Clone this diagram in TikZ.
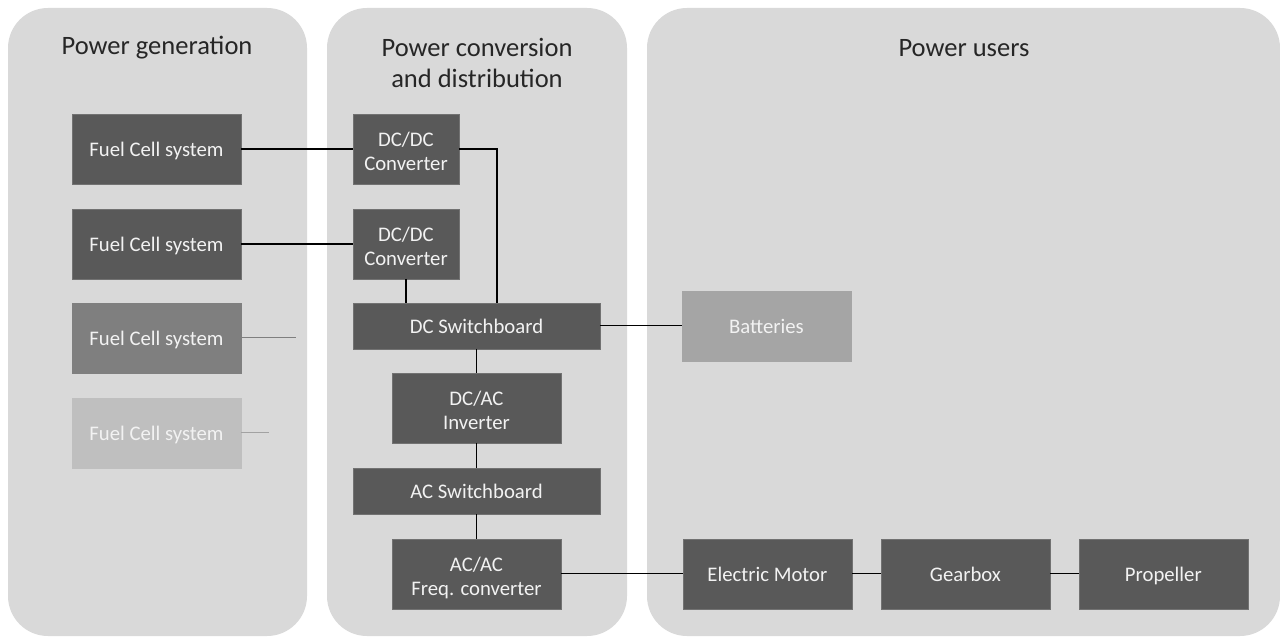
\documentclass[tikz,border=0pt]{standalone}
\usepackage{fontspec}
\setmainfont{Carlito}
\usetikzlibrary{positioning,calc}
\definecolor{panelgray}{HTML}{D9D9D9}
\definecolor{boxgray}{HTML}{595959}
\definecolor{dimgray}{HTML}{7F7F7F}
\definecolor{faintgray}{HTML}{BFBFBF}
\definecolor{batgray}{HTML}{A5A5A5}
\definecolor{boxtext}{HTML}{F2F2F2}

\begin{document}
\begin{tikzpicture}[
  x=0.02cm, y=-0.02cm,
  panel/.style={fill=panelgray, rounded corners=0.8cm},
  title/.style={font=\fontsize{15.1}{17.6}\selectfont, align=center, text=black!85},
  box/.style={fill=boxgray, draw=boxgray!85!white, line width=0.4pt, outer sep=0pt, text=boxtext, minimum width=3.38cm, minimum height=1.4cm, inner sep=0pt, align=center, font=\fontsize{11.8}{13.6}\selectfont},
  oneline/.style={box, text height=0.93em, text depth=0.1em},
  twoline/.style={box, text height=2.51em, text depth=0.1em},
  conv/.style={twoline, minimum width=2.12cm},
  board/.style={oneline, minimum width=4.94cm, minimum height=0.92cm},
  link/.style={draw=black, line width=0.6pt},
]
\useasboundingbox (0,0) rectangle (1280,642);

% the three areas
\fill[panel] (8,8) rectangle (307,636);
\fill[panel] (327,8) rectangle (627,636);
\fill[panel] (647,8) rectangle (1280,636);

\node[title] (gentitle) at (157,48) {Power generation};
\node[title] (convtitle) at (477,63) {Power conversion\\and distribution};
\node[title] (usertitle) at (964,48) {Power users};

% power generation
\node[oneline] (fc1) at (156.5,149) {Fuel Cell system};
\node[oneline, below=0.5cm of fc1] (fc2) {Fuel Cell system};
\node[oneline, fill=dimgray, draw=dimgray, below=0.48cm of fc2] (fc3) {Fuel Cell system};
\node[oneline, fill=faintgray, draw=faintgray, below=0.5cm of fc3] (fc4) {Fuel Cell system};
\coordinate (stub3) at ($(fc3.east)+(55,0)$);
\coordinate (stub4) at ($(fc4.east)+(28,0)$);

% conversion and distribution
\node[conv] (dcdc1) at (406,149) {DC/DC\\Converter};
\node[conv, below=0.5cm of dcdc1] (dcdc2) {DC/DC\\Converter};
\node[board, below right=0.48cm and 0cm of dcdc2.south west] (dcsw) {DC Switchboard};
\node[twoline, below=0.48cm of dcsw] (inv) {DC/AC\\Inverter};
\node[board, below=0.5cm of inv] (acsw) {AC Switchboard};
\node[twoline, below=0.5cm of acsw] (acac) {AC/AC\\Freq. converter};
\coordinate (bus) at (497,149);

% users
\node[oneline, fill=batgray, draw=batgray, right=1.64cm of dcsw] (bat) {Batteries};
\node[oneline, right=2.44cm of acac] (motor) {Electric Motor};
\node[oneline, right=0.58cm of motor] (gear) {Gearbox};
\node[oneline, right=0.58cm of gear] (prop) {Propeller};

\draw[link] (fc1) -- (dcdc1);
\draw[link] (fc2) -- (dcdc2);
\draw[link, draw=dimgray] (fc3.east) -- (stub3);
\draw[link, draw=faintgray!85!black] (fc4.east) -- (stub4);
\draw[link] (dcdc1.east) -- (bus) -- (bus |- dcsw.north);
\draw[link] (dcdc2.south) -- (dcdc2.south |- dcsw.north);
\draw[link] (dcsw) -- (bat);
\draw[link] (dcsw) -- (inv);
\draw[link] (inv) -- (acsw);
\draw[link] (acsw) -- (acac);
\draw[link] (acac) -- (motor);
\draw[link] (motor) -- (gear);
\draw[link] (gear) -- (prop);

\end{tikzpicture}
\end{document}
